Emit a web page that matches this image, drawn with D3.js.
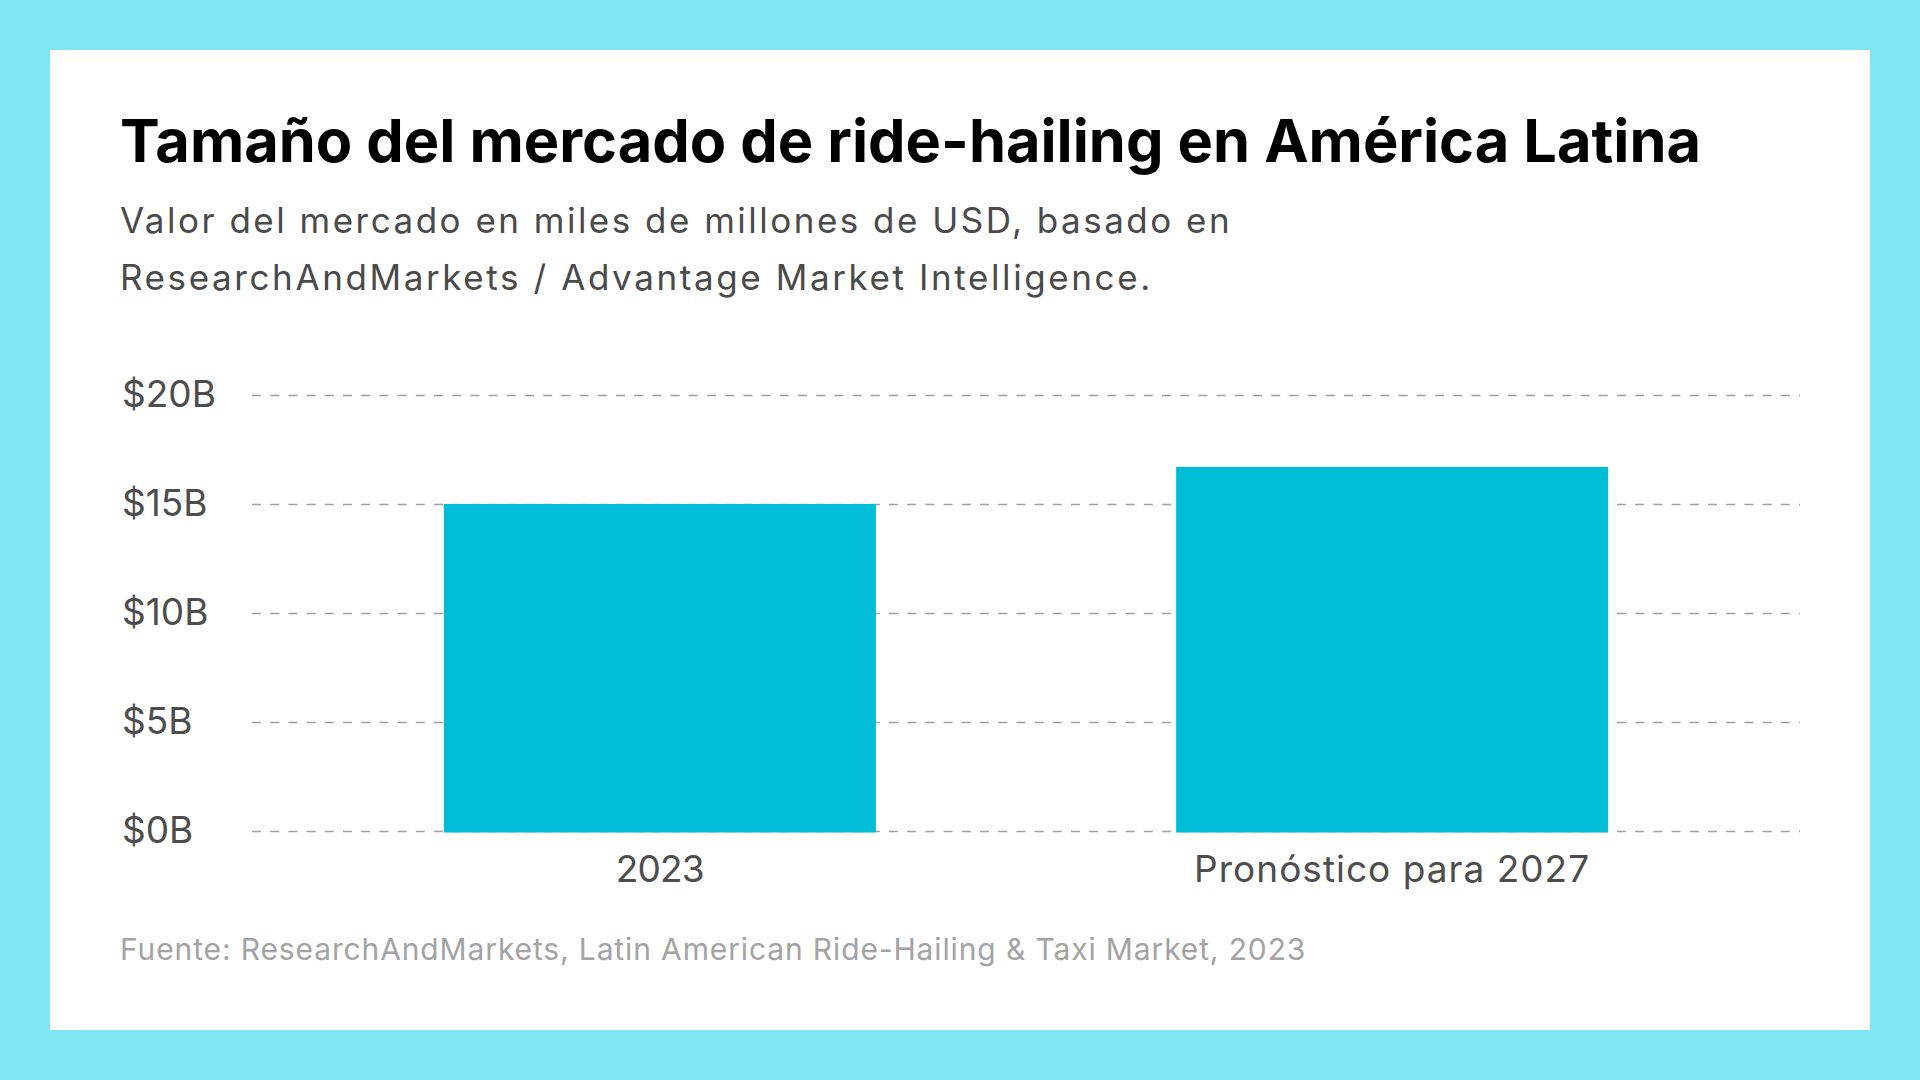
<!DOCTYPE html>
<html>
<head>
<meta charset="utf-8">
<script src="https://cdn.jsdelivr.net/npm/d3@7"></script>
<style>
  html, body { margin: 0; padding: 0; background: #7ee5f1; }
  svg { display: block; }
  text { font-family: Inter, "Noto Sans", sans-serif; }
</style>
</head>
<body>
<svg id="chart" width="1920" height="1080"></svg>
<script>
// ---- data ----
const categories = ["2023", "Pronóstico para 2027"];
const values = [15.0, 16.7];
const yTicks = [0, 5, 10, 15, 20];
const yTickLabels = ["$0B", "$5B", "$10B", "$15B", "$20B"];
const title = "Tamaño del mercado de ride-hailing en América Latina";
const subtitleLines = [
  "Valor del mercado en miles de millones de USD, basado en",
  "ResearchAndMarkets / Advantage Market Intelligence."
];
const source = "Fuente: ResearchAndMarkets, Latin American Ride-Hailing & Taxi Market, 2023";

// ---- layout ----
const svg = d3.select("#chart");
svg.append("rect").attr("x", 0).attr("y", 0).attr("width", 1920).attr("height", 1080).attr("fill", "#7ee5f1");
svg.append("rect").attr("x", 50).attr("y", 50).attr("width", 1820).attr("height", 980).attr("fill", "#ffffff");

function fitText(sel, target) {
  const w = sel.node().getComputedTextLength();
  const fs = parseFloat(sel.attr("font-size"));
  sel.attr("font-size", (fs * target / w).toFixed(2));
}
function fitSpacing(sel, target) {
  const node = sel.node();
  const w = node.getComputedTextLength();
  const n = node.textContent.length;
  sel.attr("letter-spacing", ((target - w) / n).toFixed(2));
}

const t = svg.append("text").attr("x", 120).attr("y", 162).attr("font-size", 55)
  .attr("font-weight", 700).attr("fill", "#000").text(title);
fitText(t, 1581);

const subBase = [233, 290];
const subW = [1112, 1033];
subtitleLines.forEach((s, i) => {
  const st = svg.append("text").attr("x", 120).attr("y", subBase[i]).attr("font-size", 35)
    .attr("fill", "#4a4a4a").text(s);
  fitSpacing(st, subW[i]);
});

const left = 252, right = 1800;
const x = d3.scaleBand().domain(categories).range([left, right]).paddingInner(0.41).paddingOuter(0.262);
const y = d3.scaleLinear().domain([0, 20]).range([831, 395]);

// grid + y labels
const yAxis = d3.axisLeft(y).tickValues(yTicks).tickSize(-(right - left))
  .tickFormat((d, i) => yTickLabels[i]);
const ga = svg.append("g").attr("transform", `translate(${left},0)`).call(yAxis);
ga.select(".domain").remove();
ga.selectAll(".tick line").attr("stroke", "#a0a0a0").attr("stroke-width", 1.6)
  .attr("stroke-dasharray", "9,9.2");
ga.selectAll(".tick text").attr("x", -(left - 122)).attr("text-anchor", "start")
  .attr("dy", "0.3em").attr("font-size", 37).attr("fill", "#4d4d4d")
  .style("font-family", "Inter, 'Noto Sans', sans-serif");

// bars
svg.append("g").selectAll("rect").data(values).join("rect")
  .attr("x", (d, i) => x(categories[i]))
  .attr("y", d => y(d))
  .attr("width", x.bandwidth())
  .attr("height", d => y(0) - y(d) + 1.5)
  .attr("fill", "#00bcd6");

// x labels
const xLabelW = [88, 396];
const xAxis = d3.axisBottom(x).tickSize(0).tickPadding(0);
const gx = svg.append("g").attr("transform", `translate(0,${y(0)})`).call(xAxis);
gx.select(".domain").remove();
gx.selectAll(".tick text").attr("y", 51).attr("dy", 0).attr("font-size", 37).attr("fill", "#4d4d4d")
  .style("font-family", "Inter, 'Noto Sans', sans-serif")
  .each(function(d, i) { fitSpacing(d3.select(this), xLabelW[i]); });

// source
const src = svg.append("text").attr("x", 120).attr("y", 960).attr("font-size", 30)
  .attr("fill", "#a3a3a3").text(source);
fitSpacing(src, 1186);
</script>
</body>
</html>
